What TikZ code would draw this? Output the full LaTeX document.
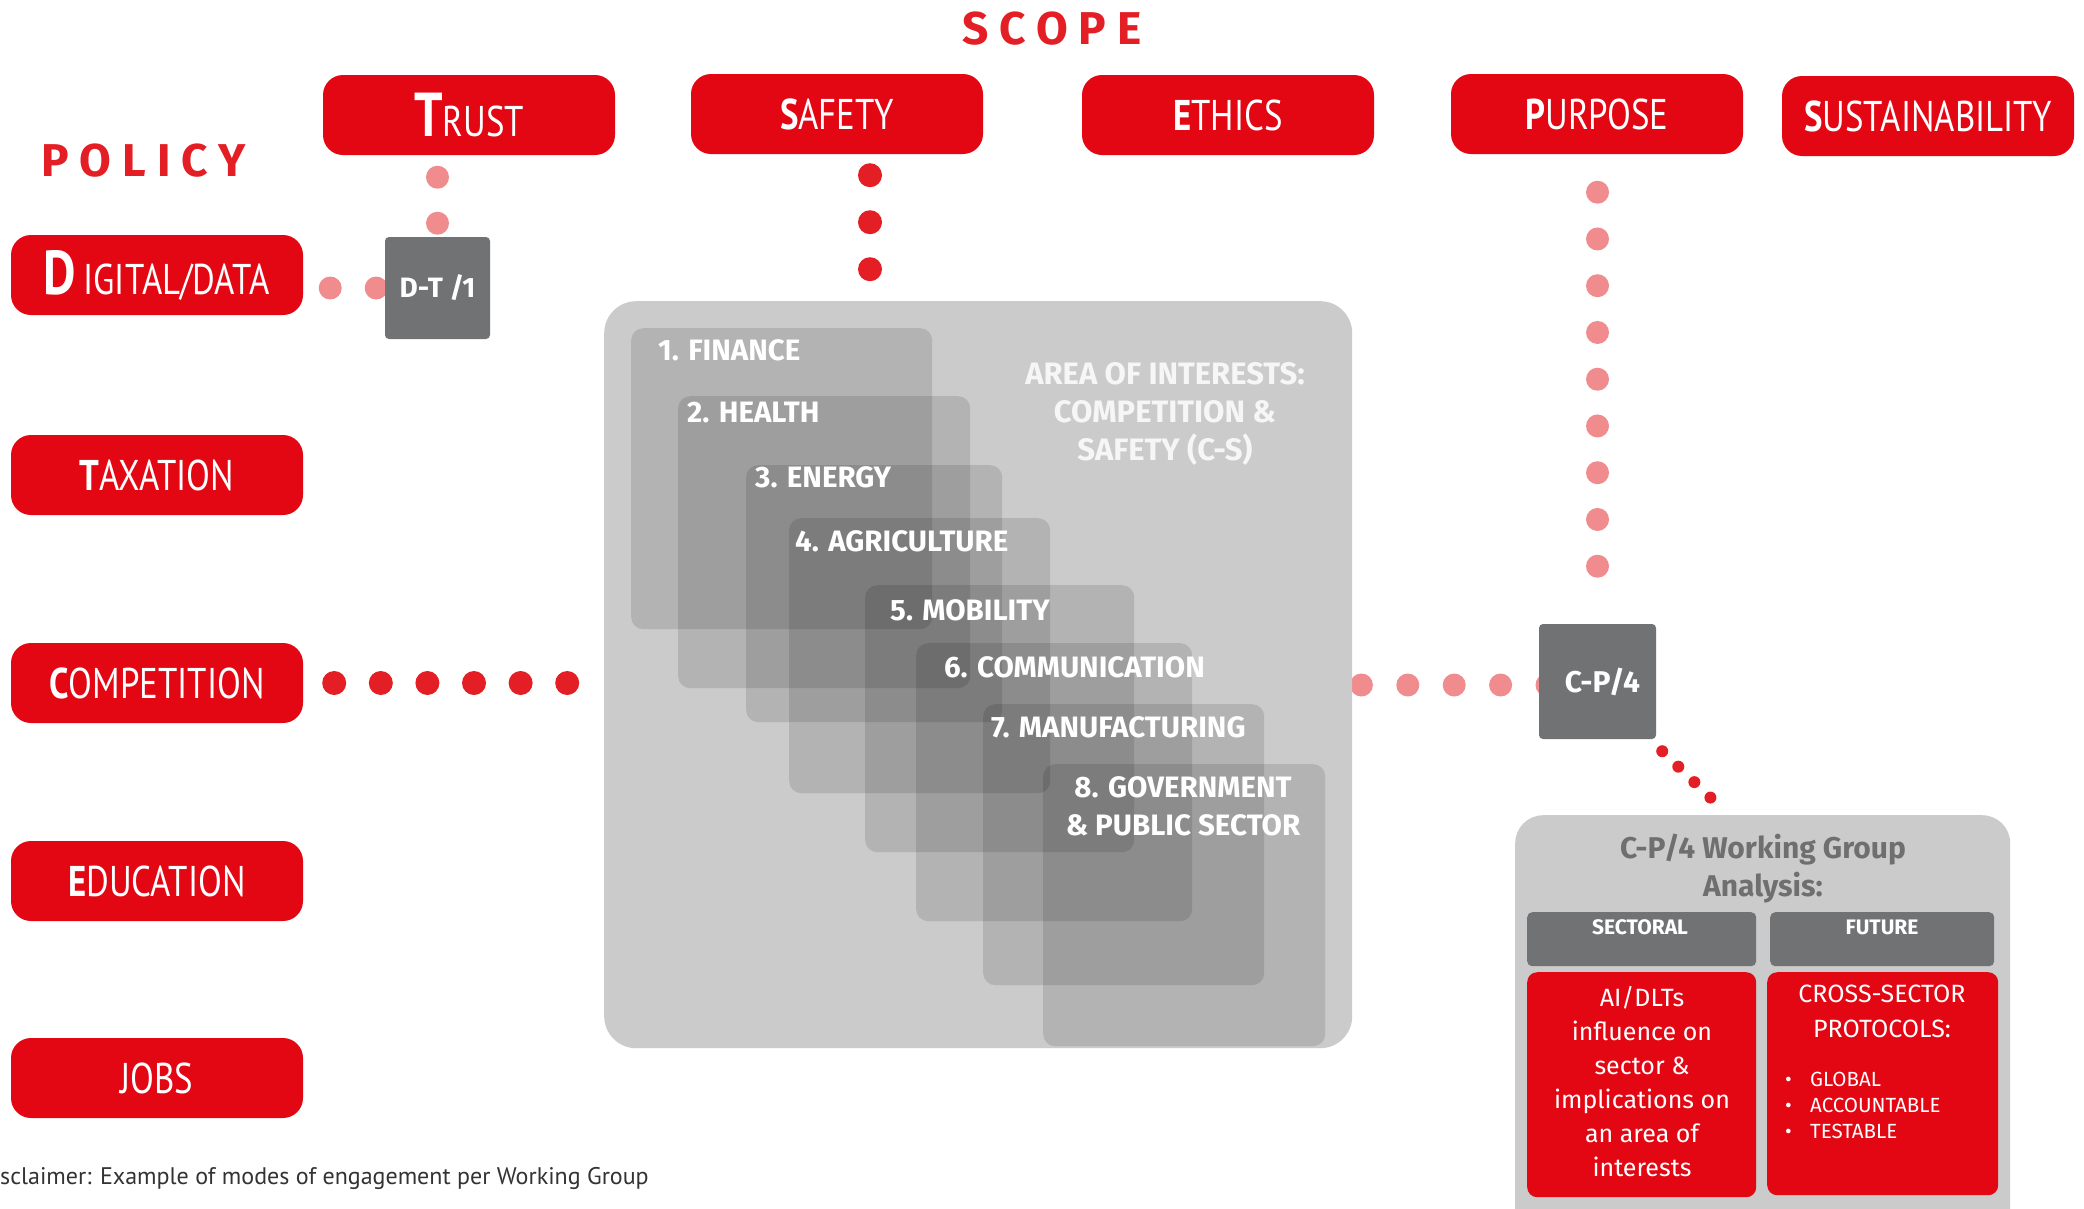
\documentclass[tikz,border=0pt]{standalone}
\usepackage{fontspec}
\setmainfont{Fira Sans}
\newfontfamily\lblfont[FakeStretch=0.81]{PT Sans}
\newfontfamily\discfont{PT Sans}
\definecolor{cred}{HTML}{E30613}
\definecolor{dred}{HTML}{E31E24}
\definecolor{cpink}{HTML}{F08C8E}
\definecolor{cdark}{HTML}{717274}
\definecolor{clight}{HTML}{CBCBCB}
\definecolor{ctitle}{HTML}{6F6F6F}
\definecolor{ctext}{HTML}{333333}
\definecolor{cwhite}{HTML}{F6F6F6}
\newcommand{\fsz}[2]{\fontsize{#1pt}{#2pt}\selectfont}
\pgfdeclarelayer{bg}
\pgfdeclarelayer{dots}
\pgfsetlayers{bg,dots,main}
\tikzset{
  redbox/.style={fill=cred, rounded corners=20pt, minimum width=292pt, minimum height=80pt, inner sep=0pt, text=white, font=\lblfont\fsz{43}{48}},
  darkbox/.style={fill=cdark, rounded corners=4pt, inner sep=0pt, text=white, font=\bfseries\fsz{28}{32}},
  sector/.style={fill=black, fill opacity=0.115, rounded corners=12pt, inner sep=0pt, anchor=north west},
  slabel/.style={text=white, font=\bfseries\fsz{29.5}{38}, inner sep=0pt},
  hdr/.style={fill=cdark, rounded corners=5pt, inner sep=0pt, anchor=north west},
  hdrtext/.style={text=white, font=\bfseries\fsz{21}{24}, inner sep=0pt},
  redpanel/.style={fill=cred, rounded corners=10pt, inner sep=0pt, anchor=north west},
  pinkdots/.style={draw=cpink, line width=23pt, line cap=round, dash pattern=on 0pt off #1},
  reddots/.style={draw=dred, line width=24pt, line cap=round, dash pattern=on 0pt off #1},
  heading/.style={text=dred, inner sep=0pt, font=\bfseries\fsz{46}{50}\addfontfeatures{LetterSpace=24}},
}
\begin{document}
\begin{tikzpicture}[x=1pt, y=-1pt]
\useasboundingbox (0,0) rectangle (2084,1208);
\begin{pgfonlayer}{bg}
\fill[white] (0,0) rectangle (2084,1208);
\end{pgfonlayer}

% headings
\node[heading] (scope) at (1052,29) {SCOPE};
\node[heading, anchor=west] (policy) at (41,161) {POLICY};

% top row
\node[redbox] (trust) at (469,115) {{\bfseries\fsz{62}{62}T}RUST};
\node[redbox] (safety) at (837,114) {{\bfseries S}AFETY};
\node[redbox] (ethics) at (1228,115) {{\bfseries E}THICS};
\node[redbox] (purpose) at (1597,114) {{\bfseries P}URPOSE};
\node[redbox] (sustain) at (1928,116) {{\bfseries S}USTAINABILITY};

% left column
\node[redbox] (digital) at (157,275) {{\bfseries\fsz{62}{62}D}\,IGITAL/DATA};
\node[redbox] (taxation) at (157,475) {{\bfseries T}AXATION};
\node[redbox] (comp) at (157,683) {{\bfseries C}OMPETITION};
\node[redbox] (education) at (157,881) {{\bfseries E}DUCATION};
\node[redbox] (jobs) at (157,1078) {JOBS};

% small gray boxes
\node[darkbox, minimum width=105pt, minimum height=102pt] (dt) at (437.5,288) {D-T /1};
\node[darkbox, minimum width=117pt, minimum height=115pt, font=\bfseries\fsz{30}{34}] (cp) at (1597.5,681.5) {\hspace{10pt}C-P/4};

% main area
\node[fill=clight, rounded corners=32pt, inner sep=0pt, anchor=north west, minimum width=748pt, minimum height=747pt] (area) at (604,301) {};
\node[sector, minimum width=301pt, minimum height=301pt] (s1) at (631,328) {};
\node[sector, minimum width=292pt, minimum height=292pt] (s2) at (678,396) {};
\node[sector, minimum width=256pt, minimum height=257pt] (s3) at (746,465) {};
\node[sector, minimum width=261pt, minimum height=275pt] (s4) at (789,518) {};
\node[sector, minimum width=269pt, minimum height=267pt] (s5) at (865,585) {};
\node[sector, minimum width=276pt, minimum height=278pt] (s6) at (916,643) {};
\node[sector, minimum width=281pt, minimum height=281pt] (s7) at (983,704) {};
\node[sector, minimum width=282pt, minimum height=282pt] (s8) at (1043,764) {};

\node[slabel, anchor=west] (l1) at (658,350) {1. FINANCE};
\node[slabel, anchor=west] (l2) at (687,413) {2. HEALTH};
\node[slabel, anchor=west] (l3) at (755,477) {3. ENERGY};
\node[slabel, anchor=west] (l4) at (795,541) {4. AGRICULTURE};
\node[slabel, anchor=west] (l5) at (890,610) {5. MOBILITY};
\node[slabel, anchor=west] (l6) at (944,667) {6. COMMUNICATION};
\node[slabel, anchor=west] (l7) at (991,727) {7. MANUFACTURING};
\node[slabel, align=center] (l8) at (1183,806) {8. GOVERNMENT\\\& PUBLIC SECTOR};
\node[slabel, align=center, text=cwhite, font=\bfseries\fsz{31}{38}] (aoi) at (1165,414) {AREA OF INTERESTS:\\COMPETITION \&\\SAFETY (C-S)};

% working group panel
\begin{scope}
\clip (0,0) rectangle (2084,1208);
\node[fill=clight, rounded corners=28pt, inner sep=0pt, anchor=north west, minimum width=495pt, minimum height=430pt] (wg) at (1515,815) {};
\end{scope}
\node[align=center, text=ctitle, inner sep=0pt, font=\bfseries\fsz{30}{38}] (wgt) at (1763,869) {C-P/4 Working Group\\Analysis:};
\node[hdr, minimum width=229pt, minimum height=54pt] (hs) at (1527,912) {};
\node[hdr, minimum width=224pt, minimum height=54pt] (hf) at (1770,912) {};
\node[hdrtext] (hst) at (1640,927) {SECTORAL};
\node[hdrtext] (hft) at (1882,927) {FUTURE};
\node[redpanel, minimum width=229pt, minimum height=225pt] (rs) at (1527,972) {};
\node[redpanel, minimum width=231pt, minimum height=223pt] (rf) at (1767,972) {};
\node[align=center, text=white, inner sep=0pt, font=\fsz{25}{34}] (rst) at (1642,1082) {AI/DLTs\\influence on\\sector \&\\implications on\\an area of\\interests};
\node[align=center, text=white, inner sep=0pt, font=\fsz{25}{35}] (rft) at (1882,1011.5) {CROSS-SECTOR\\PROTOCOLS:};
\node[align=left, anchor=west, text=white, inner sep=0pt, font=\fsz{20.5}{26}] (rfl) at (1785,1105) {\makebox[25pt][l]{\textbullet}GLOBAL\\\makebox[25pt][l]{\textbullet}ACCOUNTABLE\\\makebox[25pt][l]{\textbullet}TESTABLE};

% disclaimer
\node[anchor=west, inner sep=0pt, text=ctext, font=\discfont\fsz{24}{28}] (disc) at (0,1178) {sclaimer: Example of modes of engagement per Working Group};

% connectors
\begin{pgfonlayer}{dots}
\coordinate (wgin) at (1714,801);
\draw[reddots=46.6pt] ([xshift=31pt]comp.east) -- (comp.east -| area.west);
\draw[reddots=47pt] ([xshift=33pt,yshift=-21pt]safety.south) -- ([xshift=33pt]safety.south |- area.north);
\draw[pinkdots=46pt] ([yshift=-22pt]trust.south -| dt.north) -- (dt.north);
\draw[pinkdots=46pt] ([xshift=27pt]digital.east |- dt.west) -- (dt.west);
\draw[pinkdots=46.75pt] ([yshift=-38pt]purpose.south -| cp.north) -- ([yshift=30pt]cp.north);
\draw[pinkdots=46.4pt] ([xshift=9pt,yshift=-3.5pt]area.east |- cp.west) -- ([xshift=10pt,yshift=-3.5pt]cp.west);
\draw[draw=dred, line width=12pt, line cap=round, dash pattern=on 0pt off 22.3pt] ([xshift=6pt,yshift=-12pt]cp.south east) -- (wgin);
\end{pgfonlayer}
\end{tikzpicture}
\end{document}
